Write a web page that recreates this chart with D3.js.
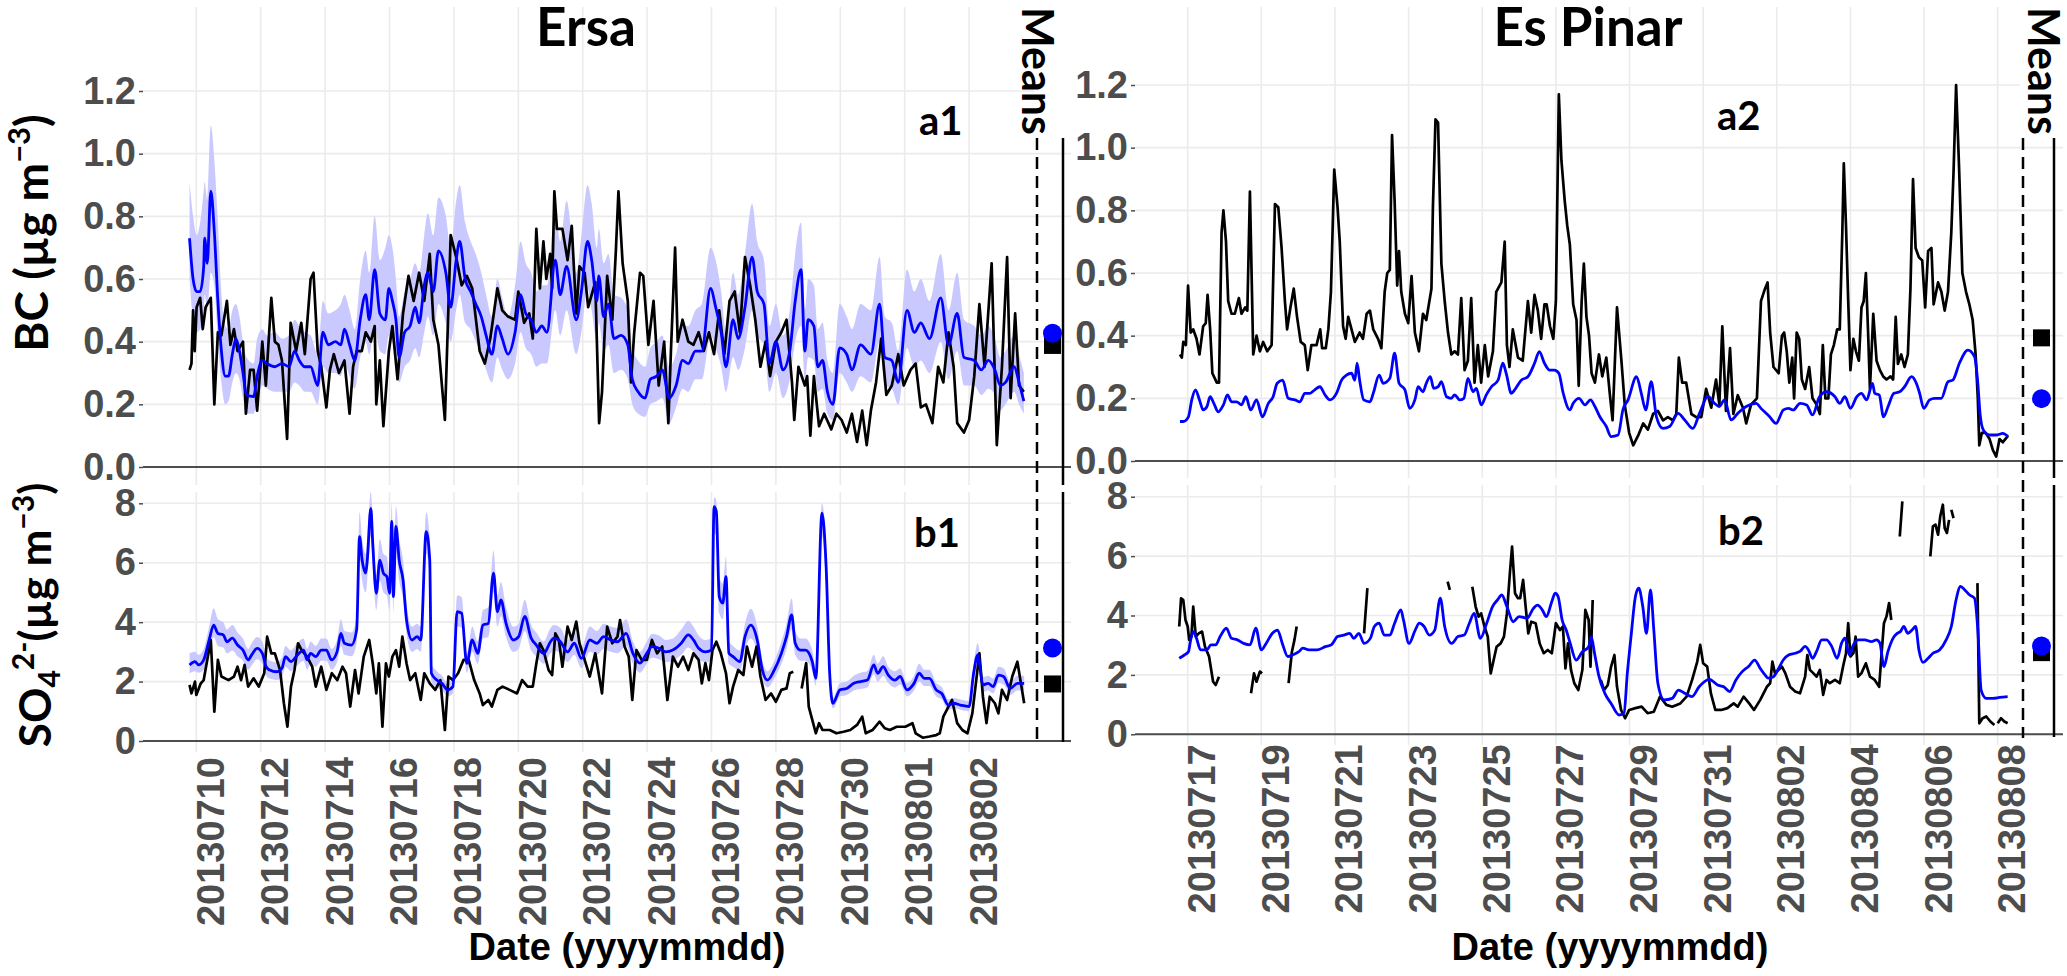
<!DOCTYPE html>
<html>
<head>
<meta charset="utf-8">
<script src="https://cdn.jsdelivr.net/npm/d3@7"></script>
<style>
  body { margin: 0; background: #fff; }
  svg { display: block; }
</style>
</head>
<body>
<div id="chart"></div>
<script>
// ---- data (time in days since the first tick date of each site) ----
var ersaTickDays = [0, 2, 4, 6, 8, 10, 12, 14, 16, 18, 20, 22, 24];
var ersaTickLabels = ["20130710", "20130712", "20130714", "20130716", "20130718", "20130720",
  "20130722", "20130724", "20130726", "20130728", "20130730", "20130801", "20130802"];
var pinarTickDays = [0, 2, 4, 6, 8, 10, 12, 14, 16, 18, 20, 22];
var pinarTickLabels = ["20130717", "20130719", "20130721", "20130723", "20130725", "20130727",
  "20130729", "20130731", "20130802", "20130804", "20130806", "20130808"];
var bcTicks = [0, 0.2, 0.4, 0.6, 0.8, 1.0, 1.2];
var so4Ticks = [0, 2, 4, 6, 8];

// Ersa BC observed [day, value]
var ersaBcObs = [[-0.21,0.31],[-0.15,0.33],[-0.1,0.5],[-0.05,0.37],[0.01,0.51],[0.12,0.54],[0.2,0.44],[0.29,0.51],[0.45,0.54],[0.56,0.2],[0.67,0.43],[0.78,0.42],[0.95,0.53],[1.06,0.39],[1.17,0.44],[1.28,0.37],[1.45,0.4],[1.54,0.17],[1.67,0.31],[1.78,0.31],[1.89,0.18],[2.05,0.4],[2.16,0.26],[2.33,0.54],[2.44,0.4],[2.55,0.39],[2.66,0.34],[2.82,0.09],[2.93,0.46],[3.1,0.37],[3.26,0.46],[3.37,0.36],[3.55,0.6],[3.64,0.62],[3.77,0.37],[3.88,0.32],[4.04,0.19],[4.15,0.31],[4.27,0.36],[4.43,0.3],[4.6,0.34],[4.76,0.17],[4.87,0.32],[4.98,0.37],[5.14,0.37],[5.26,0.43],[5.42,0.4],[5.54,0.45],[5.59,0.2],[5.7,0.34],[5.81,0.13],[5.98,0.37],[6.09,0.45],[6.25,0.28],[6.42,0.49],[6.59,0.61],[6.75,0.53],[6.92,0.62],[7.08,0.53],[7.25,0.68],[7.36,0.47],[7.52,0.39],[7.72,0.15],[7.9,0.74],[8.07,0.67],[8.24,0.58],[8.4,0.61],[8.57,0.57],[8.8,0.37],[8.96,0.33],[9.13,0.41],[9.35,0.57],[9.5,0.5],[9.68,0.48],[9.9,0.47],[10.0,0.56],[10.18,0.46],[10.34,0.49],[10.45,0.41],[10.56,0.76],[10.67,0.57],[10.78,0.72],[10.87,0.6],[10.99,0.68],[11.05,0.57],[11.12,0.88],[11.2,0.76],[11.37,0.76],[11.53,0.66],[11.66,0.77],[11.8,0.49],[11.9,0.64],[12.06,0.62],[12.17,0.51],[12.39,0.59],[12.51,0.14],[12.6,0.24],[12.76,0.61],[12.92,0.47],[13.03,0.69],[13.11,0.88],[13.24,0.65],[13.4,0.53],[13.5,0.27],[13.6,0.43],[13.78,0.62],[13.88,0.61],[14.04,0.39],[14.2,0.53],[14.36,0.26],[14.53,0.4],[14.66,0.14],[14.74,0.37],[14.87,0.7],[14.95,0.4],[15.1,0.47],[15.28,0.4],[15.44,0.39],[15.6,0.43],[15.76,0.37],[15.92,0.43],[16.08,0.36],[16.24,0.5],[16.4,0.36],[16.56,0.53],[16.72,0.56],[16.88,0.43],[17.04,0.67],[17.2,0.58],[17.36,0.47],[17.52,0.32],[17.68,0.4],[17.82,0.29],[18.0,0.4],[18.17,0.43],[18.33,0.47],[18.5,0.27],[18.57,0.15],[18.7,0.32],[18.9,0.26],[18.97,0.29],[19.07,0.1],[19.18,0.29],[19.34,0.13],[19.5,0.17],[19.72,0.12],[19.88,0.17],[20.04,0.15],[20.2,0.11],[20.36,0.17],[20.52,0.08],[20.68,0.18],[20.82,0.07],[20.95,0.18],[21.11,0.27],[21.27,0.41],[21.43,0.23],[21.6,0.26],[21.8,0.36],[21.97,0.26],[22.18,0.31],[22.34,0.33],[22.5,0.19],[22.66,0.2],[22.86,0.14],[23.04,0.32],[23.2,0.27],[23.36,0.43],[23.52,0.32],[23.63,0.14],[23.84,0.11],[24.0,0.15],[24.16,0.29],[24.32,0.52],[24.48,0.32],[24.7,0.65],[24.86,0.07],[25.02,0.32],[25.18,0.67],[25.29,0.22],[25.43,0.49],[25.55,0.26],[25.7,0.24]];

// Ersa BC modelled [day, value, ribbon low, ribbon high]
var ersaBcModel = [[-0.21,0.73,0.6,0.91],[-0.1,0.6,0.47,0.8],[0.01,0.56,0.43,0.74],[0.12,0.56,0.44,0.78],[0.23,0.64,0.5,0.88],[0.26,0.73,0.55,0.91],[0.34,0.65,0.5,0.85],[0.45,0.88,0.62,1.09],[0.56,0.75,0.58,0.98],[0.67,0.53,0.4,0.78],[0.78,0.37,0.27,0.55],[0.9,0.29,0.2,0.45],[1.0,0.29,0.21,0.44],[1.12,0.36,0.27,0.5],[1.23,0.41,0.3,0.52],[1.34,0.37,0.28,0.48],[1.45,0.3,0.22,0.4],[1.56,0.23,0.17,0.35],[1.78,0.225,0.17,0.33],[1.89,0.29,0.21,0.41],[2.05,0.34,0.26,0.44],[2.2,0.33,0.25,0.42],[2.44,0.32,0.24,0.43],[2.66,0.33,0.24,0.41],[2.88,0.32,0.24,0.42],[3.05,0.37,0.27,0.47],[3.2,0.34,0.26,0.45],[3.37,0.32,0.24,0.43],[3.55,0.32,0.24,0.42],[3.77,0.26,0.2,0.36],[3.93,0.43,0.32,0.53],[4.1,0.39,0.3,0.49],[4.32,0.4,0.3,0.5],[4.49,0.39,0.29,0.52],[4.6,0.44,0.33,0.55],[4.76,0.39,0.29,0.5],[4.92,0.34,0.25,0.44],[5.09,0.47,0.35,0.6],[5.26,0.55,0.4,0.69],[5.37,0.47,0.36,0.62],[5.54,0.63,0.45,0.8],[5.7,0.49,0.37,0.66],[5.87,0.47,0.36,0.7],[5.98,0.57,0.42,0.74],[6.09,0.53,0.4,0.7],[6.2,0.47,0.35,0.6],[6.3,0.35,0.27,0.48],[6.47,0.43,0.32,0.56],[6.64,0.45,0.34,0.6],[6.8,0.51,0.38,0.65],[6.92,0.46,0.35,0.62],[7.08,0.58,0.43,0.74],[7.19,0.62,0.48,0.81],[7.36,0.56,0.42,0.74],[7.52,0.69,0.52,0.86],[7.75,0.62,0.46,0.8],[7.9,0.51,0.4,0.7],[8.07,0.66,0.5,0.85],[8.18,0.72,0.55,0.9],[8.35,0.6,0.46,0.78],[8.52,0.56,0.44,0.72],[8.68,0.52,0.4,0.68],[8.85,0.48,0.36,0.62],[9.0,0.42,0.31,0.55],[9.18,0.36,0.27,0.48],[9.35,0.45,0.35,0.6],[9.5,0.41,0.31,0.54],[9.68,0.36,0.28,0.48],[9.9,0.43,0.33,0.58],[10.07,0.55,0.43,0.72],[10.23,0.49,0.38,0.65],[10.4,0.47,0.36,0.62],[10.56,0.43,0.32,0.56],[10.73,0.45,0.33,0.58],[10.89,0.43,0.33,0.58],[11.15,0.66,0.5,0.82],[11.3,0.55,0.42,0.72],[11.5,0.64,0.5,0.85],[11.8,0.47,0.36,0.62],[11.96,0.56,0.43,0.74],[12.15,0.72,0.57,0.9],[12.28,0.66,0.5,0.84],[12.44,0.53,0.4,0.7],[12.5,0.61,0.46,0.76],[12.65,0.48,0.37,0.65],[12.8,0.52,0.39,0.68],[12.97,0.41,0.3,0.55],[13.19,0.42,0.31,0.54],[13.4,0.39,0.28,0.5],[13.54,0.28,0.2,0.38],[13.72,0.24,0.17,0.34],[13.94,0.22,0.16,0.32],[14.1,0.28,0.2,0.38],[14.3,0.29,0.21,0.4],[14.47,0.31,0.22,0.42],[14.69,0.22,0.14,0.32],[14.9,0.26,0.19,0.36],[15.1,0.34,0.25,0.45],[15.28,0.33,0.24,0.45],[15.5,0.37,0.28,0.5],[15.7,0.37,0.28,0.52],[15.97,0.57,0.42,0.7],[16.13,0.51,0.38,0.66],[16.3,0.43,0.32,0.56],[16.45,0.32,0.24,0.43],[16.67,0.47,0.35,0.62],[16.83,0.41,0.31,0.55],[17.04,0.51,0.38,0.68],[17.26,0.67,0.5,0.84],[17.42,0.56,0.42,0.72],[17.63,0.52,0.39,0.66],[17.8,0.33,0.24,0.45],[18.0,0.4,0.3,0.52],[18.22,0.31,0.22,0.42],[18.43,0.37,0.28,0.5],[18.6,0.53,0.4,0.68],[18.78,0.63,0.45,0.78],[18.9,0.37,0.28,0.5],[19.0,0.47,0.35,0.6],[19.18,0.45,0.34,0.58],[19.3,0.32,0.24,0.44],[19.45,0.34,0.25,0.46],[19.6,0.24,0.17,0.34],[19.77,0.2,0.15,0.3],[19.98,0.38,0.3,0.52],[20.2,0.36,0.27,0.48],[20.36,0.31,0.24,0.44],[20.63,0.39,0.29,0.52],[20.95,0.36,0.27,0.5],[21.22,0.52,0.4,0.67],[21.38,0.35,0.26,0.48],[21.6,0.34,0.25,0.46],[21.8,0.27,0.2,0.37],[22.07,0.5,0.38,0.63],[22.3,0.43,0.32,0.56],[22.5,0.46,0.34,0.6],[22.77,0.41,0.3,0.53],[23.12,0.54,0.4,0.68],[23.36,0.39,0.28,0.5],[23.63,0.49,0.37,0.62],[23.84,0.35,0.26,0.47],[24.16,0.34,0.26,0.45],[24.38,0.31,0.23,0.42],[24.6,0.34,0.25,0.45],[24.8,0.31,0.23,0.41],[24.97,0.26,0.18,0.35],[25.13,0.27,0.2,0.37],[25.4,0.32,0.24,0.42],[25.55,0.27,0.2,0.36],[25.7,0.21,0.17,0.3]];

// Ersa SO4 observed [day, value]; null = missing
var ersaSo4Obs = [[-0.21,1.89],[-0.15,1.6],[-0.04,2.0],[0.0,1.55],[0.14,1.94],[0.23,2.05],[0.45,3.4],[0.56,0.99],[0.67,2.73],[0.78,2.17],[1.0,2.05],[1.17,2.17],[1.28,2.5],[1.39,2.05],[1.5,2.56],[1.61,1.83],[1.78,2.11],[1.94,1.83],[2.11,2.28],[2.2,3.51],[2.33,2.95],[2.44,2.95],[2.6,2.39],[2.72,1.27],[2.83,0.48],[2.94,1.83],[3.05,2.39],[3.16,3.29],[3.27,3.06],[3.44,2.84],[3.6,2.5],[3.71,1.83],[3.88,2.5],[4.04,1.72],[4.21,2.28],[4.38,2.05],[4.54,2.5],[4.65,2.28],[4.78,1.16],[4.93,2.39],[5.04,1.6],[5.2,2.84],[5.37,3.4],[5.48,2.61],[5.59,1.6],[5.67,2.61],[5.78,0.48],[5.89,2.61],[5.98,2.17],[6.09,2.84],[6.2,3.06],[6.3,2.5],[6.4,3.51],[6.53,2.61],[6.64,2.05],[6.8,2.28],[6.97,1.38],[7.08,2.28],[7.25,1.94],[7.42,1.72],[7.58,2.05],[7.72,0.37],[7.83,2.17],[7.97,2.05],[8.13,2.28],[8.3,2.73],[8.46,2.73],[8.63,2.05],[8.8,1.6],[8.9,1.21],[9.07,1.38],[9.18,1.16],[9.35,1.72],[9.51,1.83],[9.73,1.72],[9.96,1.6],[10.12,2.05],[10.29,1.83],[10.45,1.83],[10.56,2.61],[10.67,3.29],[10.78,3.06],[10.94,2.39],[11.05,2.22],[11.15,3.62],[11.26,3.4],[11.37,2.5],[11.53,3.85],[11.66,3.4],[11.8,4.02],[11.9,3.29],[12.06,2.73],[12.22,2.17],[12.39,2.95],[12.6,1.6],[12.76,3.85],[12.92,3.29],[13.08,3.51],[13.16,4.07],[13.3,3.18],[13.43,2.84],[13.54,1.38],[13.67,3.06],[13.83,2.73],[13.99,2.73],[14.15,3.4],[14.31,2.95],[14.47,3.18],[14.63,1.38],[14.8,2.84],[14.96,2.5],[15.12,2.84],[15.28,2.39],[15.44,2.95],[15.6,2.73],[15.7,1.94],[15.81,2.62],[15.92,2.05],[16.03,3.06],[16.15,3.34],[16.29,2.95],[16.45,2.28],[16.56,1.27],[16.67,1.83],[16.83,2.39],[16.99,2.22],[17.1,3.18],[17.26,2.5],[17.4,3.18],[17.52,2.17],[17.68,1.38],[17.85,1.6],[18.0,1.32],[18.17,1.72],[18.33,1.77],[18.43,2.28],[18.54,2.33],[18.62,null],[18.8,1.77],[18.94,2.62],[19.02,1.16],[19.13,0.71],[19.24,0.26],[19.34,0.6],[19.45,0.37],[19.67,0.37],[19.88,0.26],[20.1,0.31],[20.31,0.37],[20.52,0.54],[20.68,0.82],[20.79,0.26],[21.0,0.37],[21.22,0.65],[21.38,0.43],[21.54,0.37],[21.75,0.48],[22.02,0.48],[22.24,0.6],[22.34,0.26],[22.56,0.11],[22.77,0.15],[22.98,0.2],[23.09,0.26],[23.2,0.82],[23.36,1.16],[23.47,1.38],[23.63,0.6],[23.79,0.37],[23.95,0.26],[24.1,0.93],[24.21,1.94],[24.32,2.95],[24.43,1.49],[24.54,0.6],[24.64,1.49],[24.8,1.27],[24.91,0.93],[25.02,1.72],[25.18,1.38],[25.34,2.17],[25.5,2.67],[25.61,1.94],[25.71,1.27]];

// Ersa SO4 modelled [day, value, ribbon low, ribbon high]
var ersaSo4Model = [[-0.21,2.56,2.28,2.95],[-0.04,2.67,2.35,3.0],[0.07,2.56,2.3,2.9],[0.23,2.73,2.4,3.1],[0.4,3.4,3.0,3.85],[0.54,3.9,3.5,4.47],[0.67,3.62,3.2,4.1],[0.84,3.57,3.15,4.0],[0.95,3.34,2.95,3.75],[1.12,3.46,3.05,3.9],[1.28,3.23,2.85,3.65],[1.45,3.06,2.7,3.45],[1.61,2.73,2.4,3.1],[1.72,2.9,2.55,3.3],[1.89,3.12,2.75,3.5],[2.05,2.95,2.6,3.35],[2.17,2.5,2.2,2.85],[2.28,2.39,2.1,2.7],[2.5,2.33,2.05,2.65],[2.66,2.45,2.15,2.8],[2.77,2.84,2.5,3.2],[2.94,2.67,2.35,3.05],[3.1,2.84,2.5,3.25],[3.33,3.06,2.7,3.45],[3.44,2.73,2.4,3.1],[3.55,2.95,2.6,3.35],[3.71,2.84,2.5,3.2],[3.88,3.06,2.7,3.45],[4.04,3.06,2.7,3.45],[4.2,2.73,2.4,3.1],[4.37,3.0,2.65,3.4],[4.49,3.62,3.2,4.1],[4.6,3.29,2.9,3.7],[4.82,3.23,2.85,3.65],[4.98,3.74,3.3,4.2],[5.07,6.88,6.1,7.7],[5.15,6.09,5.4,6.8],[5.26,5.65,5.0,6.3],[5.31,6.09,5.4,6.8],[5.42,7.83,6.9,8.4],[5.48,6.65,5.9,7.4],[5.59,4.97,4.4,5.6],[5.7,6.09,5.4,6.8],[5.81,5.65,5.0,6.3],[5.92,5.53,4.9,6.2],[6.0,4.97,4.4,5.6],[6.07,7.39,6.6,8.0],[6.12,4.86,4.3,5.5],[6.2,7.22,6.4,7.9],[6.3,6.09,5.4,6.8],[6.42,5.42,4.8,6.1],[6.53,4.07,3.6,4.6],[6.7,3.4,3.0,3.85],[6.86,3.51,3.1,3.95],[6.97,3.4,3.0,3.85],[7.14,7.05,6.3,7.7],[7.25,6.09,5.4,6.8],[7.3,2.28,2.0,2.6],[7.47,2.05,1.8,2.35],[7.63,1.94,1.7,2.2],[7.8,1.72,1.5,1.95],[7.97,1.83,1.6,2.1],[8.1,4.35,3.85,4.9],[8.24,4.3,3.8,4.85],[8.4,2.61,2.3,2.95],[8.57,3.4,3.0,3.85],[8.74,2.95,2.6,3.35],[8.9,3.9,3.45,4.4],[9.07,3.96,3.5,4.5],[9.23,5.65,5.0,6.4],[9.35,4.35,3.85,4.9],[9.46,4.75,4.2,5.35],[9.62,3.96,3.5,4.5],[9.85,3.4,3.0,3.85],[10.01,3.51,3.1,3.95],[10.2,4.19,3.7,4.75],[10.4,3.46,3.05,3.9],[10.56,3.23,2.85,3.65],[10.79,2.95,2.6,3.35],[11.0,3.34,2.95,3.8],[11.1,3.46,3.05,3.9],[11.31,3.34,2.95,3.8],[11.53,3.0,2.65,3.4],[11.74,3.29,2.9,3.7],[11.96,2.78,2.45,3.15],[12.22,3.4,3.0,3.85],[12.44,3.29,2.9,3.7],[12.65,3.51,3.1,3.95],[12.87,3.4,3.0,3.85],[13.08,3.34,2.95,3.8],[13.35,3.62,3.2,4.1],[13.56,2.95,2.6,3.35],[13.78,2.62,2.3,3.0],[13.99,2.95,2.6,3.35],[14.15,3.18,2.8,3.6],[14.37,3.12,2.75,3.55],[14.58,3.0,2.65,3.4],[14.8,3.06,2.7,3.45],[15.06,3.29,2.9,3.75],[15.28,3.57,3.15,4.05],[15.44,3.4,3.0,3.85],[15.6,3.12,2.75,3.55],[15.81,3.0,2.65,3.4],[16.0,3.06,2.7,3.45],[16.08,7.89,7.0,8.2],[16.15,7.72,6.9,8.1],[16.24,4.86,4.3,5.5],[16.35,4.64,4.1,5.3],[16.45,5.53,4.9,6.2],[16.54,2.95,2.6,3.35],[16.67,2.84,2.5,3.2],[16.88,2.67,2.35,3.05],[17.04,3.51,3.1,3.95],[17.22,3.9,3.45,4.45],[17.42,3.4,3.0,3.85],[17.58,2.39,2.1,2.7],[17.74,2.05,1.8,2.35],[17.95,2.39,2.1,2.7],[18.17,2.95,2.6,3.35],[18.33,3.51,3.1,3.95],[18.49,4.24,3.75,4.8],[18.6,3.29,2.9,3.7],[18.76,3.06,2.7,3.45],[18.92,3.06,2.7,3.45],[19.13,2.67,2.35,3.05],[19.24,2.11,1.85,2.4],[19.43,7.67,6.9,8.0],[19.56,5.87,5.2,6.5],[19.67,2.28,2.0,2.6],[19.77,1.27,1.1,1.45],[19.99,1.72,1.5,1.95],[20.2,1.77,1.55,2.0],[20.42,1.94,1.7,2.2],[20.63,2.0,1.75,2.3],[20.84,2.05,1.8,2.35],[21.04,2.56,2.25,2.9],[21.16,2.28,2.0,2.6],[21.33,2.5,2.2,2.85],[21.49,2.22,1.95,2.5],[21.7,2.05,1.8,2.35],[21.86,2.17,1.9,2.45],[22.07,1.72,1.5,1.95],[22.29,1.94,1.7,2.2],[22.45,2.28,2.0,2.6],[22.61,2.11,1.85,2.4],[22.77,2.11,1.85,2.4],[22.98,1.72,1.5,1.95],[23.15,1.6,1.4,1.82],[23.36,1.21,1.05,1.4],[23.52,1.27,1.1,1.45],[23.73,1.21,1.05,1.4],[24.0,1.16,1.0,1.35],[24.14,2.28,2.0,2.6],[24.27,2.9,2.55,3.3],[24.43,1.89,1.65,2.15],[24.59,1.94,1.7,2.2],[24.75,1.83,1.6,2.1],[24.91,2.22,1.95,2.5],[25.07,2.17,1.9,2.45],[25.28,1.77,1.55,2.0],[25.5,1.94,1.7,2.2],[25.71,1.94,1.7,2.2]];

// Es Pinar BC observed [day, value]
var pinarBcObs = [[-0.21,0.34],[-0.16,0.33],[-0.12,0.38],[-0.05,0.37],[0.01,0.56],[0.08,0.41],[0.15,0.42],[0.24,0.39],[0.32,0.34],[0.42,0.43],[0.49,0.44],[0.54,0.53],[0.61,0.42],[0.67,0.28],[0.79,0.25],[0.85,0.25],[0.92,0.73],[0.97,0.8],[1.04,0.7],[1.1,0.51],[1.19,0.47],[1.28,0.47],[1.39,0.52],[1.46,0.47],[1.56,0.49],[1.62,0.48],[1.69,0.86],[1.78,0.34],[1.87,0.4],[1.96,0.35],[2.05,0.38],[2.16,0.35],[2.28,0.37],[2.37,0.82],[2.46,0.81],[2.55,0.68],[2.64,0.51],[2.7,0.42],[2.79,0.49],[2.88,0.55],[2.97,0.46],[3.07,0.38],[3.18,0.37],[3.26,0.29],[3.36,0.37],[3.5,0.37],[3.6,0.42],[3.65,0.36],[3.75,0.36],[3.82,0.42],[3.89,0.54],[3.98,0.93],[4.07,0.81],[4.13,0.7],[4.22,0.43],[4.29,0.39],[4.36,0.46],[4.45,0.42],[4.54,0.38],[4.67,0.41],[4.76,0.39],[4.86,0.47],[4.95,0.48],[5.04,0.42],[5.17,0.39],[5.26,0.36],[5.35,0.54],[5.42,0.6],[5.49,0.61],[5.55,1.04],[5.62,0.83],[5.69,0.56],[5.74,0.67],[5.8,0.54],[5.9,0.47],[5.99,0.44],[6.08,0.59],[6.17,0.41],[6.28,0.35],[6.39,0.47],[6.48,0.45],[6.62,0.55],[6.66,0.81],[6.73,1.09],[6.8,1.08],[6.89,0.63],[6.98,0.51],[7.07,0.41],[7.16,0.34],[7.25,0.35],[7.34,0.34],[7.43,0.52],[7.52,0.29],[7.61,0.32],[7.7,0.52],[7.79,0.25],[7.88,0.37],[7.97,0.25],[8.07,0.37],[8.16,0.27],[8.29,0.35],[8.38,0.54],[8.52,0.57],[8.61,0.7],[8.67,0.37],[8.74,0.3],[8.83,0.42],[8.97,0.33],[9.1,0.32],[9.24,0.51],[9.33,0.41],[9.42,0.53],[9.51,0.48],[9.6,0.39],[9.69,0.5],[9.75,0.5],[9.84,0.43],[9.93,0.39],[10.0,0.51],[10.08,1.17],[10.15,0.96],[10.24,0.83],[10.31,0.75],[10.38,0.69],[10.47,0.5],[10.56,0.45],[10.62,0.24],[10.7,0.51],[10.76,0.63],[10.83,0.46],[10.9,0.4],[10.97,0.28],[11.06,0.25],[11.17,0.34],[11.26,0.27],[11.37,0.33],[11.46,0.22],[11.54,0.13],[11.66,0.49],[11.78,0.32],[11.87,0.18],[11.99,0.09],[12.1,0.05],[12.23,0.08],[12.37,0.12],[12.5,0.1],[12.64,0.15],[12.77,0.16],[12.91,0.13],[13.04,0.14],[13.18,0.13],[13.27,0.15],[13.34,0.33],[13.43,0.25],[13.54,0.25],[13.68,0.15],[13.81,0.14],[13.95,0.14],[14.08,0.23],[14.22,0.17],[14.35,0.26],[14.44,0.18],[14.52,0.43],[14.62,0.16],[14.73,0.36],[14.82,0.15],[14.94,0.21],[15.08,0.17],[15.17,0.12],[15.3,0.18],[15.46,0.2],[15.57,0.51],[15.68,0.55],[15.75,0.57],[15.82,0.41],[15.91,0.3],[16.05,0.28],[16.14,0.4],[16.2,0.41],[16.27,0.35],[16.34,0.25],[16.42,0.33],[16.47,0.2],[16.54,0.41],[16.61,0.39],[16.68,0.26],[16.77,0.23],[16.88,0.3],[16.97,0.2],[17.08,0.18],[17.17,0.15],[17.25,0.37],[17.32,0.2],[17.4,0.2],[17.47,0.34],[17.55,0.37],[17.64,0.42],[17.71,0.42],[17.78,0.73],[17.82,0.95],[17.88,0.75],[17.94,0.51],[18.0,0.29],[18.08,0.39],[18.15,0.35],[18.23,0.32],[18.3,0.49],[18.36,0.51],[18.42,0.6],[18.48,0.41],[18.53,0.23],[18.62,0.47],[18.71,0.32],[18.8,0.29],[18.89,0.27],[18.98,0.26],[19.09,0.27],[19.16,0.26],[19.23,0.46],[19.29,0.31],[19.38,0.34],[19.47,0.3],[19.56,0.34],[19.63,0.55],[19.7,0.9],[19.77,0.68],[19.86,0.65],[19.95,0.64],[20.03,0.49],[20.11,0.67],[20.2,0.68],[20.26,0.5],[20.38,0.57],[20.47,0.54],[20.56,0.48],[20.65,0.54],[20.74,0.73],[20.8,0.92],[20.87,1.2],[20.95,0.94],[21.04,0.6],[21.14,0.54],[21.23,0.5],[21.32,0.45],[21.4,0.34],[21.46,0.2],[21.5,0.05],[21.57,0.09],[21.67,0.09],[21.78,0.07],[21.87,0.035],[21.96,0.014],[22.05,0.07],[22.14,0.06],[22.28,0.08]];

// Es Pinar BC modelled [day, value]
var pinarBcModel = [[-0.21,0.126],[-0.12,0.126],[0.02,0.141],[0.11,0.195],[0.21,0.227],[0.32,0.195],[0.42,0.163],[0.52,0.173],[0.61,0.205],[0.71,0.184],[0.83,0.157],[0.97,0.179],[1.08,0.211],[1.19,0.189],[1.33,0.189],[1.46,0.179],[1.58,0.205],[1.71,0.163],[1.87,0.195],[2.03,0.141],[2.19,0.184],[2.32,0.205],[2.43,0.248],[2.58,0.258],[2.73,0.2],[2.91,0.195],[3.05,0.189],[3.18,0.216],[3.32,0.216],[3.45,0.227],[3.59,0.237],[3.73,0.211],[3.86,0.195],[4.04,0.216],[4.18,0.258],[4.31,0.274],[4.45,0.28],[4.54,0.258],[4.6,0.312],[4.67,0.258],[4.78,0.195],[4.95,0.189],[5.04,0.216],[5.2,0.274],[5.31,0.248],[5.49,0.264],[5.62,0.344],[5.74,0.248],[5.9,0.227],[6.03,0.168],[6.17,0.195],[6.26,0.237],[6.39,0.221],[6.48,0.248],[6.59,0.269],[6.68,0.232],[6.8,0.237],[6.89,0.253],[7.03,0.205],[7.16,0.2],[7.25,0.211],[7.39,0.195],[7.5,0.2],[7.61,0.264],[7.75,0.221],[7.84,0.232],[7.97,0.179],[8.11,0.211],[8.25,0.237],[8.43,0.258],[8.56,0.312],[8.65,0.28],[8.79,0.216],[8.88,0.227],[9.06,0.258],[9.24,0.269],[9.42,0.312],[9.55,0.349],[9.69,0.312],[9.83,0.29],[9.96,0.29],[10.08,0.28],[10.2,0.216],[10.38,0.163],[10.47,0.184],[10.63,0.2],[10.79,0.179],[10.94,0.195],[11.06,0.174],[11.19,0.142],[11.37,0.11],[11.5,0.078],[11.69,0.083],[11.82,0.163],[11.96,0.195],[12.19,0.269],[12.32,0.216],[12.44,0.163],[12.59,0.253],[12.73,0.142],[12.91,0.104],[13.09,0.11],[13.32,0.152],[13.5,0.131],[13.72,0.104],[13.9,0.152],[14.13,0.206],[14.31,0.184],[14.44,0.174],[14.58,0.195],[14.76,0.131],[14.94,0.152],[15.17,0.174],[15.44,0.184],[15.57,0.168],[15.8,0.142],[15.98,0.12],[16.18,0.163],[16.32,0.168],[16.45,0.163],[16.63,0.184],[16.81,0.179],[16.97,0.147],[17.16,0.205],[17.35,0.221],[17.58,0.205],[17.71,0.184],[17.85,0.205],[18.0,0.168],[18.17,0.205],[18.3,0.216],[18.44,0.195],[18.6,0.248],[18.66,0.216],[18.78,0.211],[18.9,0.141],[19.02,0.173],[19.18,0.216],[19.34,0.221],[19.47,0.237],[19.66,0.269],[19.79,0.248],[19.88,0.216],[19.99,0.168],[20.15,0.195],[20.29,0.2],[20.47,0.2],[20.65,0.253],[20.78,0.258],[20.96,0.312],[21.19,0.354],[21.37,0.333],[21.46,0.248],[21.52,0.152],[21.61,0.099],[21.78,0.083],[21.96,0.083],[22.14,0.088],[22.28,0.078]];

// Es Pinar SO4 observed [day, value]; null = missing
var pinarSo4Obs = [[-0.23,3.63],[-0.18,4.58],[-0.12,4.52],[-0.06,3.85],[0.0,3.63],[0.04,3.18],[0.1,3.29],[0.15,4.3],[0.22,3.29],[0.3,3.4],[0.39,3.46],[0.47,2.95],[0.58,2.62],[0.69,1.77],[0.76,1.66],[0.85,1.94],[1.3,null],[1.72,1.38],[1.8,2.05],[1.87,1.77],[1.96,2.11],[2.02,2.05],[2.4,null],[2.74,1.72],[2.83,2.78],[2.9,3.18],[2.96,3.63],[3.9,null],[4.79,3.4],[4.88,4.92],[6.0,null],[7.06,5.14],[7.12,4.86],[7.4,null],[7.73,4.97],[7.82,4.3],[7.9,3.96],[7.97,4.07],[8.06,3.63],[8.15,3.29],[8.23,2.05],[8.31,2.5],[8.39,2.95],[8.5,3.06],[8.59,3.29],[8.67,4.07],[8.75,5.42],[8.81,6.32],[8.89,4.75],[8.97,4.58],[9.03,4.58],[9.11,5.2],[9.17,4.41],[9.25,3.4],[9.33,3.79],[9.45,3.74],[9.56,3.06],[9.67,2.73],[9.78,2.84],[9.89,2.73],[10.0,3.74],[10.11,3.51],[10.19,3.63],[10.26,2.22],[10.33,3.06],[10.41,2.17],[10.5,1.72],[10.61,1.49],[10.72,2.17],[10.8,4.19],[10.89,3.85],[10.94,2.28],[11.0,4.52],[11.1,null],[11.22,1.83],[11.31,1.49],[11.41,1.66],[11.5,2.28],[11.59,2.67],[11.66,1.6],[11.77,0.82],[11.88,0.54],[11.99,0.82],[12.16,0.88],[12.33,0.93],[12.49,0.71],[12.66,0.76],[12.83,1.27],[13.0,0.99],[13.16,0.93],[13.38,1.04],[13.55,1.27],[13.7,1.83],[13.84,2.45],[13.92,3.01],[14.0,2.39],[14.11,2.28],[14.21,1.38],[14.33,0.82],[14.49,0.82],[14.66,0.88],[14.83,1.04],[14.94,0.93],[15.1,1.27],[15.25,1.04],[15.38,0.82],[15.55,1.16],[15.73,1.6],[15.82,1.72],[15.88,2.45],[15.95,2.06],[16.05,2.17],[16.14,2.28],[16.23,2.06],[16.36,1.6],[16.5,1.44],[16.63,1.38],[16.77,1.94],[16.83,2.67],[16.9,2.17],[16.99,2.06],[17.08,1.94],[17.17,2.17],[17.26,1.33],[17.35,1.83],[17.44,1.72],[17.58,1.83],[17.71,1.72],[17.8,2.28],[17.88,2.73],[17.94,3.74],[18.0,2.62],[18.08,2.73],[18.14,3.29],[18.21,1.94],[18.3,2.06],[18.42,2.39],[18.53,1.94],[18.66,1.83],[18.78,1.6],[18.84,2.62],[18.91,3.74],[18.98,3.97],[19.05,4.42],[19.11,3.85],[19.2,null],[19.34,6.66],[19.41,7.84],[19.8,null],[20.17,5.99],[20.24,7.0],[20.31,7.06],[20.38,6.72],[20.44,7.34],[20.51,7.73],[20.56,6.94],[20.62,6.78],[20.68,7.22],[20.71,null],[20.74,7.56],[20.8,7.28],[21.1,null],[21.45,5.09],[21.5,0.37],[21.59,0.54],[21.69,0.6],[21.8,0.43],[21.91,0.31],[21.96,null],[22.0,0.37],[22.09,0.54],[22.18,0.43],[22.27,0.37]];

// Es Pinar SO4 modelled [day, value]
var pinarSo4Model = [[-0.23,2.56],[-0.09,2.67],[0.02,2.78],[0.08,3.18],[0.16,3.46],[0.24,3.23],[0.35,2.84],[0.52,2.84],[0.63,3.01],[0.76,3.01],[0.88,3.29],[1.05,3.57],[1.19,3.23],[1.35,3.18],[1.52,3.06],[1.69,3.01],[1.85,3.57],[2.0,2.84],[2.13,3.06],[2.3,3.4],[2.44,3.51],[2.57,3.06],[2.72,2.62],[2.85,2.67],[3.02,2.78],[3.13,2.9],[3.29,2.84],[3.51,2.84],[3.74,2.95],[3.9,3.01],[4.07,3.29],[4.24,3.34],[4.4,3.4],[4.51,3.23],[4.65,3.4],[4.79,3.06],[4.96,3.23],[5.07,3.63],[5.2,3.74],[5.34,3.34],[5.49,3.34],[5.62,3.74],[5.79,4.19],[5.86,3.85],[6.01,3.06],[6.18,3.51],[6.29,3.74],[6.42,3.63],[6.56,3.34],[6.71,3.51],[6.86,4.58],[6.98,3.63],[7.17,3.06],[7.34,3.29],[7.51,3.34],[7.65,3.74],[7.78,4.07],[7.95,3.23],[8.12,3.74],[8.28,4.3],[8.41,4.52],[8.53,4.69],[8.67,4.3],[8.84,3.79],[9.0,3.96],[9.22,3.91],[9.39,4.24],[9.5,4.35],[9.63,4.19],[9.74,3.96],[9.89,4.47],[9.98,4.75],[10.06,4.64],[10.17,3.85],[10.28,3.51],[10.39,3.06],[10.55,2.5],[10.72,2.78],[10.89,2.95],[10.96,3.29],[11.05,2.73],[11.16,2.0],[11.33,1.38],[11.5,1.04],[11.72,0.65],[11.85,0.71],[11.94,2.05],[12.05,3.4],[12.16,4.64],[12.25,4.92],[12.36,4.3],[12.46,3.4],[12.57,4.86],[12.66,3.51],[12.77,1.72],[12.94,1.16],[13.16,1.21],[13.33,1.49],[13.5,1.38],[13.7,1.27],[13.89,1.6],[14.17,1.85],[14.39,1.66],[14.56,1.6],[14.72,1.44],[14.89,1.83],[15.06,2.11],[15.23,2.28],[15.4,2.5],[15.55,2.22],[15.68,2.0],[15.77,1.89],[15.91,1.94],[16.05,2.22],[16.18,2.51],[16.32,2.67],[16.5,2.73],[16.63,2.79],[16.77,2.96],[16.86,2.84],[16.97,2.56],[17.08,2.79],[17.22,3.18],[17.35,3.18],[17.49,2.96],[17.64,2.56],[17.76,3.07],[17.85,3.24],[17.97,2.67],[18.08,3.01],[18.21,3.18],[18.39,3.18],[18.57,3.12],[18.71,3.18],[18.8,3.07],[18.91,2.28],[19.02,2.79],[19.16,3.24],[19.27,3.4],[19.36,3.46],[19.45,3.63],[19.56,3.4],[19.68,3.52],[19.77,3.63],[19.86,2.84],[19.97,2.42],[20.11,2.56],[20.24,2.73],[20.42,2.84],[20.6,3.18],[20.74,3.63],[20.87,4.53],[20.99,4.98],[21.1,4.87],[21.23,4.7],[21.37,4.58],[21.46,3.52],[21.55,1.49],[21.69,1.21],[21.87,1.21],[22.05,1.24],[22.27,1.27]];

// campaign means [observed, modelled]
var ersaBcMean = [0.388, 0.427];
var ersaSo4Mean = [1.92, 3.13];
var pinarBcMean = [0.393, 0.199];
var pinarSo4Mean = [2.75, 2.97];

// ---- layout ----
var W = 2067, H = 976;
var GRID = "#ebebeb", AXIS = "#4d4d4d", BLUE = "#0000ff", RIBBON = "#c9c9ff";
var TITLE_FONT = "Lato, 'Open Sans', sans-serif";
var TICK_FONT = "'Liberation Sans', Arial, sans-serif";
var meansTop = 138;

var svg = d3.select("#chart").append("svg")
    .attr("width", W)
    .attr("height", H);

var cols = {
  ersa: {left: 143, mainRight: 1034, meansRight: 1071, dash: 1037, solid: 1063, strip: 1022,
         xRange: [196.3, 969.1], days: ersaTickDays, labels: ersaTickLabels,
         title: "Ersa", titleX: 586, dateX: 627, bottom: 745},
  pinar: {left: 1135, mainRight: 2020, meansRight: 2063, dash: 2023, solid: 2054, strip: 2028,
          xRange: [1187.7, 1997.7], days: pinarTickDays, labels: pinarTickLabels,
          title: "Es Pinar", titleX: 1588, dateX: 1610, bottom: 738}
};

function drawPanel(p) {
  var c = p.col;
  var x = d3.scaleLinear()
      .domain([c.days[0], c.days[c.days.length - 1]])
      .range(c.xRange);
  var y = d3.scaleLinear()
      .domain([0, p.ticks[p.ticks.length - 1]])
      .range(p.yRange);
  var g = svg.append("g");

  //vertical grid in the time panel
  g.selectAll(".vgrid").data(c.days).enter().append("line")
    .attr("x1", function(d) { return x(d); })
    .attr("x2", function(d) { return x(d); })
    .attr("y1", p.top).attr("y2", p.bottom)
    .attr("stroke", GRID).attr("stroke-width", 1.6);

  //horizontal grid, the means panel only below its strip
  g.selectAll(".hgrid").data(p.ticks).enter().append("line")
    .attr("x1", c.left)
    .attr("x2", function(d) { return y(d) > meansTop ? c.meansRight : c.mainRight; })
    .attr("y1", function(d) { return y(d); })
    .attr("y2", function(d) { return y(d); })
    .attr("stroke", GRID).attr("stroke-width", 1.6);

  //zero line
  g.append("line")
    .attr("x1", c.left).attr("x2", c.meansRight)
    .attr("y1", y(0)).attr("y2", y(0))
    .attr("stroke", AXIS).attr("stroke-width", 2);

  //Y axis
  var yAxis = g.append("g")
    .attr("transform", "translate(" + c.left + ",0)")
    .call(d3.axisLeft(y).tickValues(p.ticks).tickSize(4).tickPadding(3).tickFormat(p.fmt));
  yAxis.select(".domain").remove();
  yAxis.selectAll("line").attr("stroke", AXIS).attr("stroke-width", 1.5);
  yAxis.selectAll("text")
    .attr("fill", AXIS)
    .style("font-family", TICK_FONT)
    .style("font-weight", "bold")
    .style("font-size", "38px");

  //ribbon + lines
  if (p.ribbon) {
    var band = d3.area()
      .x(function(d) { return x(d[0]); })
      .y0(function(d) { return y(d[2]); })
      .y1(function(d) { return y(d[3]); })
      .curve(d3.curveMonotoneX);
    g.append("path").datum(p.model)
      .attr("d", band)
      .attr("fill", RIBBON);
  }
  var obsLine = d3.line()
    .defined(function(d) { return d[1] != null; })
    .x(function(d) { return x(d[0]); })
    .y(function(d) { return y(d[1]); });
  var modelLine = d3.line()
    .x(function(d) { return x(d[0]); })
    .y(function(d) { return y(d[1]); })
    .curve(d3.curveMonotoneX);
  g.append("path").datum(p.obs)
    .attr("d", obsLine)
    .attr("fill", "none").attr("stroke", "#000").attr("stroke-width", 2.7)
    .attr("stroke-linejoin", "round");
  g.append("path").datum(p.model)
    .attr("d", modelLine)
    .attr("fill", "none").attr("stroke", BLUE).attr("stroke-width", 2.8)
    .attr("stroke-linejoin", "round");

  //means panel
  var mx = d3.scalePoint().domain(["mean"]).range([c.mainRight, c.meansRight]).padding(0.5);
  g.append("line")
    .attr("x1", c.solid).attr("x2", c.solid)
    .attr("y1", Math.max(p.top, meansTop)).attr("y2", p.solidEnd)
    .attr("stroke", "#000").attr("stroke-width", 2.5);
  g.append("rect")
    .attr("x", mx("mean") - 8.5).attr("y", y(p.mean[0]) - 8.5)
    .attr("width", 17).attr("height", 17)
    .attr("fill", "#000");
  g.append("circle")
    .attr("cx", mx("mean")).attr("cy", y(p.mean[1]))
    .attr("r", 9.5)
    .attr("fill", BLUE);

  //panel tag
  g.append("text")
    .attr("x", p.tag[1]).attr("y", p.tag[2])
    .style("font-family", TITLE_FONT).style("font-weight", "bold").style("font-size", "40px")
    .text(p.tag[0]);

  //X axis with dates
  if (p.xAxis) {
    var xAxis = g.append("g")
      .attr("transform", "translate(0," + y(0) + ")")
      .call(d3.axisBottom(x).tickValues(c.days).tickSize(0)
        .tickFormat(function(d, i) { return c.labels[i]; }));
    xAxis.select(".domain").remove();
    xAxis.selectAll("text")
      .attr("transform", "rotate(-90)")
      .attr("x", -p.labelGap)
      .attr("y", 27)
      .attr("dy", 0)
      .attr("text-anchor", "end")
      .attr("fill", AXIS)
      .style("font-family", TICK_FONT)
      .style("font-weight", "bold")
      .style("font-size", "38px");
  }
}

var panels = [
  {col: cols.ersa, top: 7, bottom: 485, yRange: [467, 91], ticks: bcTicks, fmt: d3.format(".1f"),
   obs: ersaBcObs, model: ersaBcModel, ribbon: true, mean: ersaBcMean, tag: ["a1", 919, 135],
   solidEnd: 485, xAxis: false},
  {col: cols.ersa, top: 492, bottom: 752, yRange: [741, 503.3], ticks: so4Ticks, fmt: d3.format("d"),
   obs: ersaSo4Obs, model: ersaSo4Model, ribbon: true, mean: ersaSo4Mean, tag: ["b1", 914, 547],
   solidEnd: 742, xAxis: true, labelGap: 16},
  {col: cols.pinar, top: 7, bottom: 478, yRange: [461, 85], ticks: bcTicks, fmt: d3.format(".1f"),
   obs: pinarBcObs, model: pinarBcModel, ribbon: false, mean: pinarBcMean, tag: ["a2", 1717, 130],
   solidEnd: 478, xAxis: false},
  {col: cols.pinar, top: 485, bottom: 745, yRange: [734.3, 496.7], ticks: so4Ticks, fmt: d3.format("d"),
   obs: pinarSo4Obs, model: pinarSo4Model, ribbon: false, mean: pinarSo4Mean, tag: ["b2", 1718, 545],
   solidEnd: 737, xAxis: true, labelGap: 10}
];
panels.forEach(drawPanel);

//column decorations: dashed separator, strip text, site title, date title
Object.keys(cols).forEach(function(k) {
  var c = cols[k];
  svg.append("line")
    .attr("x1", c.dash).attr("x2", c.dash)
    .attr("y1", meansTop).attr("y2", c.bottom)
    .attr("stroke", "#000").attr("stroke-width", 2.5)
    .attr("stroke-dasharray", "12,7");
  svg.append("text")
    .attr("transform", "translate(" + c.strip + ",7) rotate(90)")
    .style("font-family", TITLE_FONT).style("font-weight", "bold").style("font-size", "43px")
    .text("Means");
  svg.append("text")
    .attr("x", c.titleX).attr("y", 46)
    .attr("text-anchor", "middle")
    .style("font-family", TITLE_FONT).style("font-weight", "bold").style("font-size", "53px")
    .text(c.title);
  svg.append("text")
    .attr("x", c.dateX).attr("y", 960)
    .attr("text-anchor", "middle")
    .style("font-family", TICK_FONT).style("font-weight", "bold").style("font-size", "38px")
    .text("Date (yyyymmdd)");
});

//Y axis titles
var bcTitle = svg.append("text")
  .attr("transform", "translate(48,233) rotate(-90)")
  .attr("text-anchor", "middle")
  .style("font-family", TITLE_FONT).style("font-weight", "bold").style("font-size", "46px");
bcTitle.append("tspan").text("BC (\u00b5g m");
bcTitle.append("tspan").attr("dy", -18).style("font-size", "31px").text("\u22123");
bcTitle.append("tspan").attr("dy", 18).text(")");

var soTitle = svg.append("text")
  .attr("transform", "translate(51,615) rotate(-90)")
  .attr("text-anchor", "middle")
  .style("font-family", TITLE_FONT).style("font-weight", "bold").style("font-size", "44px");
soTitle.append("tspan").text("SO");
soTitle.append("tspan").attr("dy", 9).style("font-size", "30px").text("4");
soTitle.append("tspan").attr("dy", -26).style("font-size", "30px").text("2-");
soTitle.append("tspan").attr("dy", 17).text("(\u00b5g m");
soTitle.append("tspan").attr("dy", -17).style("font-size", "30px").text("\u22123");
soTitle.append("tspan").attr("dy", 17).text(")");
</script>
</body>
</html>
